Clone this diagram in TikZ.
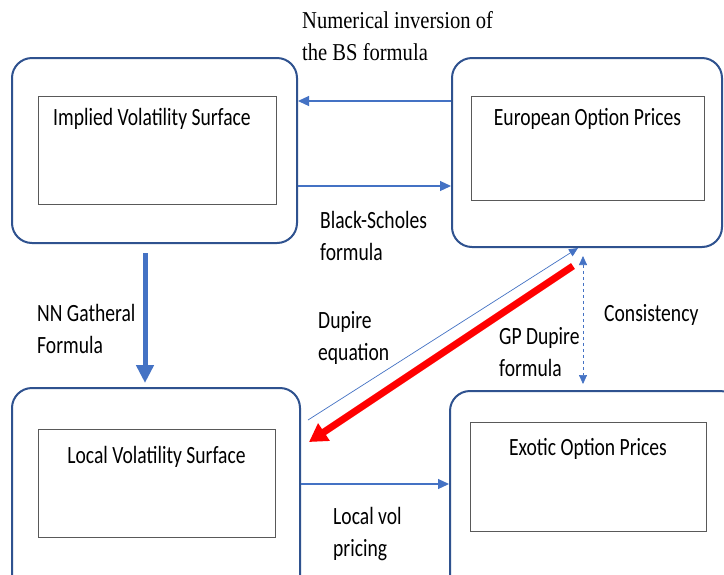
\documentclass[tikz,border=0pt]{standalone}
\usepackage{fontspec}
\setmainfont{Carlito}[FakeStretch=0.79]
\newfontfamily\notefont{Liberation Serif}[FakeStretch=0.85]
\usetikzlibrary{arrows.meta, calc}

\definecolor{boxblue}{HTML}{2F528F}
\definecolor{flowblue}{HTML}{4472C4}
\definecolor{innergray}{HTML}{595959}
\definecolor{alertred}{HTML}{FF0000}

\begin{document}
\begin{tikzpicture}[x=1pt, y=-1pt, font=\fontsize{24.8}{32}\selectfont,
	outerbox/.style={draw=boxblue, line width=2pt, rounded corners=20pt, inner sep=0pt},
	innerbox/.style={draw=innergray, line width=0.9pt, inner sep=0pt},
	flow/.style={draw=flowblue, line width=1.2pt, -{Triangle[length=11pt, width=10pt]}},
	thinflow/.style={draw=flowblue, line width=0.7pt, -{Triangle[length=9pt, width=8pt]}},
	thickflow/.style={draw=flowblue, line width=5pt, -{Triangle[length=18pt, width=17pt]}},
	redflow/.style={draw=alertred, line width=7pt, -{Triangle[length=18pt, width=20pt]}},
	consist/.style={draw=flowblue, line width=0.7pt, dashed, {Triangle[length=9pt, width=8pt]}-{Triangle[length=9pt, width=8pt]}},
	caption/.style={anchor=west, align=left, inner sep=0pt}]
	\def \titledrop {29.5pt}

	\useasboundingbox (0,0) rectangle (724,574);
	\fill[white] (0,0) rectangle (724,574);
	\clip (0,0) rectangle (724,574);

	\node[outerbox, minimum width=285pt, minimum height=185pt] (implied) at (154.5,150.5) {};
	\node[innerbox, minimum width=238pt, minimum height=108pt,
		label={[anchor=base, xshift=-5pt, yshift=-\titledrop]north:Implied Volatility Surface}] (impliedin) at (157,150) {};

	\node[outerbox, minimum width=270pt, minimum height=189pt] (european) at (587,152.5) {};
	\node[innerbox, minimum width=233pt, minimum height=104pt,
		label={[anchor=base, yshift=-\titledrop]north:European Option Prices}] (europeanin) at (587.5,148) {};

	\node[outerbox, minimum width=288pt, minimum height=220pt] (local) at (156,498) {};
	\node[innerbox, minimum width=237pt, minimum height=108pt,
		label={[anchor=base, yshift=-34.5pt]north:Local Volatility Surface}] (localin) at (156.5,483) {};

	\node[outerbox, minimum width=290pt, minimum height=219pt] (exotic) at (595,500.5) {};
	\node[innerbox, minimum width=236pt, minimum height=109pt,
		label={[anchor=base, yshift=-33.5pt]north:Exotic Option Prices}] (exoticin) at (588,476.5) {};

	\draw[flow] ([yshift=51.5pt]european.west) -- ([yshift=51.5pt]european.west -| implied.east);
	\draw[flow] ([yshift=-35.5pt]implied.east) -- ([yshift=-35.5pt]implied.east -| european.west);
	\draw[thickflow] ($(implied.south)+(-9.5,9)$) -- ($(implied.south |- local.north)+(-9.5,-4)$);
	\draw[thinflow] ($(local.east)+(7,-78)$) -- ($(european.south)+(-9,0)$);
	\draw[redflow] ($(european.south)+(-14,18)$) -- ($(local.east)+(8,-56)$);
	\draw[consist] ($(european.south)+(-4,8)$) -- ($(european.south |- exotic.north)+(-4,-6)$);
	\draw[flow] ([yshift=14pt]local.east) -- ([yshift=14pt]local.east -| exotic.west);

	\node[caption, font=\notefont\fontsize{24.2}{32}\selectfont] (inversion) at (302,36) {Numerical inversion of\\the BS formula};
	\node[caption] (bsformula) at (320,236) {Black-Scholes\\formula};
	\node[caption] (gatheral) at (37,329) {NN Gatheral\\Formula};
	\node[caption] (dupire) at (318,338) {Dupire\\equation};
	\node[caption] (gpdupire) at (499,352) {GP Dupire\\formula};
	\node[caption] (consistency) at (604,315) {Consistency};
	\node[caption] (localvol) at (333,534) {Local vol\\pricing};
\end{tikzpicture}
\end{document}
